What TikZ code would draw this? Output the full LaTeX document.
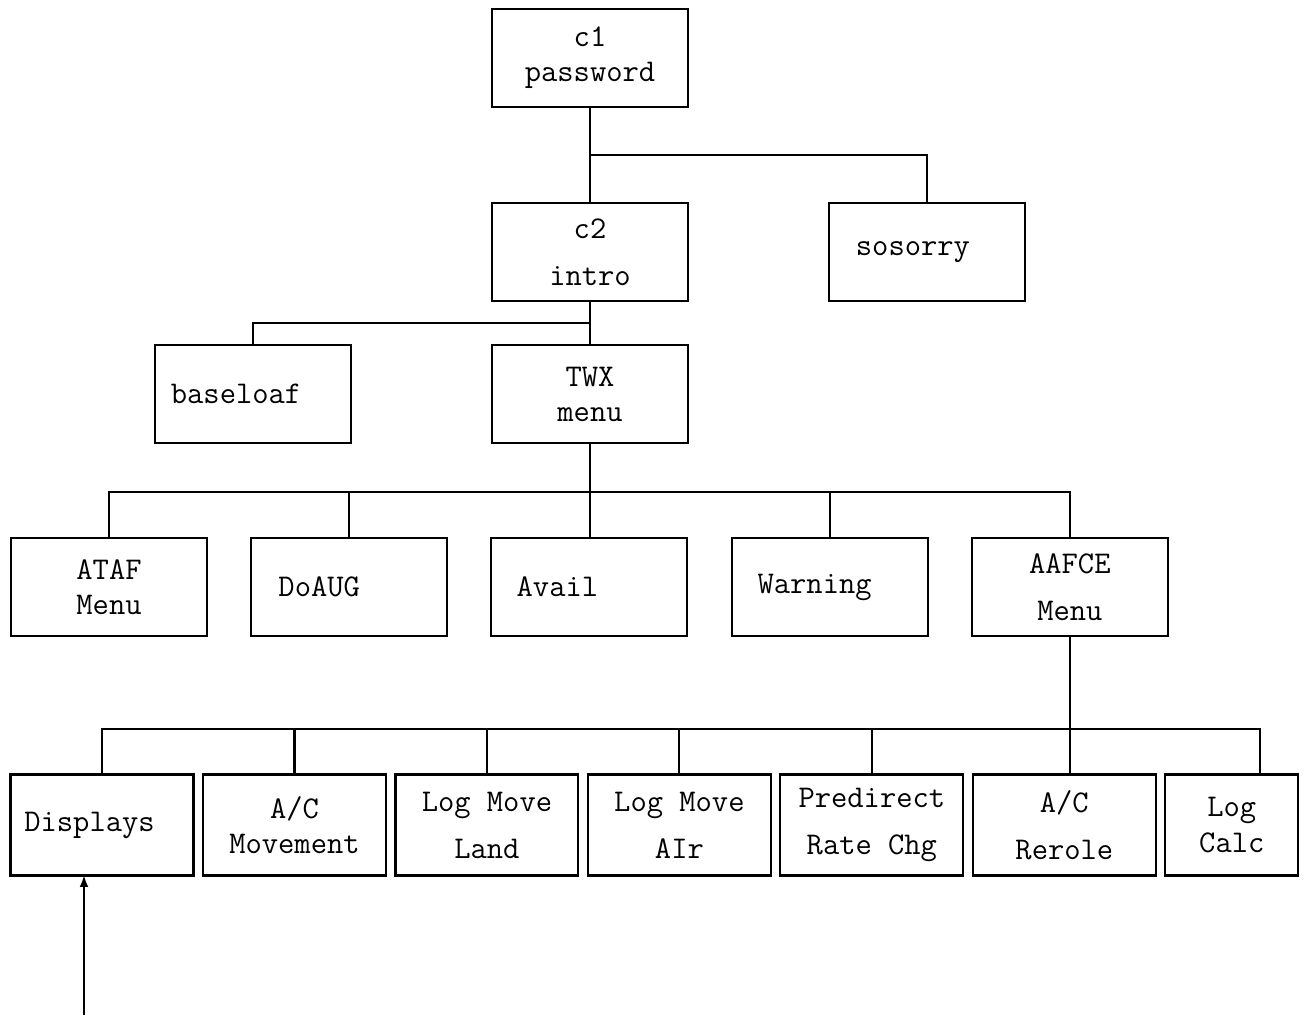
\documentclass[tikz,border=0pt]{standalone}
\usepackage{tikz}
\usetikzlibrary{arrows}
\usetikzlibrary{positioning}

\begin{document}
\begin{tikzpicture}
      [x=0.02cm,y=-0.02cm,
       screenBox/.style={rectangle,draw=black,line width=1.2pt,outer sep=0pt,minimum width=3.92cm,minimum height=1.96cm,align=center,font=\fontsize{18}{20}\selectfont\ttfamily},
       optionBox/.style={screenBox,minimum width=3.66cm,minimum height=2.02cm},
       link/.style={line width=1.2pt}]
      \useasboundingbox (0,0) rectangle (1304,1015);
      % top of the tree
      \node[screenBox] (c1) at (590,58) {c1\\password};
      \node[screenBox] (c2) at (590,252) {c2\\[0.24cm]intro};
      \node[screenBox] (sosorry) [right=2.82cm of c2] {sosorry\hspace*{0.56cm}};
      \node[screenBox] (twx) at (590,394) {TWX\\menu};
      \node[screenBox] (baseloaf) [left=2.82cm of twx] {baseloaf\hspace*{0.68cm}};
      % TWX menu choices
      \node[screenBox] (ataf) at (109,587) {ATAF\\Menu};
      \node[screenBox] (doaug) [right=0.885cm of ataf] {DoAUG\hspace*{1.2cm}};
      \node[screenBox] (avail) [right=0.885cm of doaug] {Avail\hspace*{1.28cm}};
      \node[screenBox] (warning) [right=0.885cm of avail] {Warning\hspace*{0.6cm}};
      \node[screenBox] (aafce) [right=0.885cm of warning] {AAFCE\\[0.24cm]Menu};
      % AAFCE menu choices
      \node[optionBox] (displays) at (102,825) {Displays\hspace*{0.5cm}};
      \node[optionBox] (movement) [right=0.19cm of displays] {A/C\\Movement};
      \node[optionBox] (land) [right=0.19cm of movement] {Log Move\\[0.24cm]Land};
      \node[optionBox] (air) [right=0.19cm of land] {Log Move\\[0.24cm]AIr};
      \node[optionBox] (predirect) [right=0.19cm of air] {Predirect\\[0.24cm]Rate Chg};
      \node[optionBox] (rerole) [right=0.19cm of predirect] {A/C\\[0.24cm]Rerole};
      \node[optionBox,minimum width=2.66cm] (calc) [right=0.19cm of rerole] {Log\\Calc};

      \coordinate (topBus) at (590,155);
      \coordinate (midBus) at (590,323);
      \coordinate (rowBus) at (590,492);
      \path (aafce.south) ++(0,93) coordinate (lowBus);
      \coordinate (feed) at (84,1015);

      \draw[link] (c1) -- (c2);
      \draw[link] (topBus) -| (sosorry);
      \draw[link] (c2) -- (twx);
      \draw[link] (midBus) -| (baseloaf);
      \draw[link] (twx) -- (twx |- avail.north);
      \foreach \n in {ataf,doaug,warning,aafce}
        \draw[link] (rowBus) -| (\n);
      \draw[link] (aafce) -- (aafce |- rerole.north);
      \foreach \n in {displays,movement,land,air,predirect}
        \draw[link] (lowBus) -| (\n);
      \draw[link] (lowBus) -| ([xshift=0.56cm]calc.north);
      \draw[link,-latex] (feed) -- (feed |- displays.south);
    \end{tikzpicture}
\end{document}
